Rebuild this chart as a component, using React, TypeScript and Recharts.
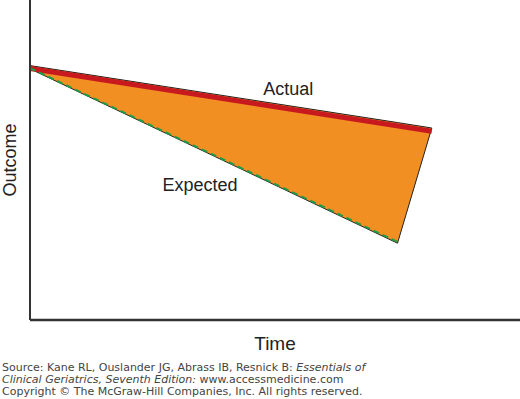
import {
  ComposedChart,
  Area,
  Line,
  XAxis,
  YAxis,
  ReferenceDot,
} from "recharts";

// Values. Time and outcome are both on a 0–100 scale.
const time = [0, 75, 82];
const actualTop = [79.5, 61.7, 60];
const bandLow = [78.5, 24, 60]; // expected trajectory, then the closing edge
const expected = [78.7, 24.4, null];
const actualTrend = [78.6, null, 59];

const labels = [
  { text: "Actual", t: 52.7, v: 72.4 },
  { text: "Expected", t: 34.7, v: 42.2 },
];

const FONT = "'Liberation Sans', Arial, Helvetica, sans-serif";
const SOURCE_FONT = "'DejaVu Sans', Verdana, sans-serif";

const chartData = time.map((t, i) => ({
  time: t,
  band: [bandLow[i], actualTop[i]],
  expected: expected[i],
  actualTrend: actualTrend[i],
}));

export default function App() {
  return (
    <div
      style={{
        position: "absolute",
        left: 0,
        top: 0,
        width: 520,
        height: 399,
        background: "#fff",
      }}
    >
      <ComposedChart
        width={520}
        height={399}
        data={chartData}
        margin={{ top: 0, right: 0, bottom: 0, left: 0 }}
      >
        <XAxis
          type="number"
          dataKey="time"
          domain={[0, 100]}
          tick={false}
          tickLine={false}
          height={79}
          axisLine={{ stroke: "#333", strokeWidth: 2.5 }}
          label={{
            content: ({ viewBox }: any) => (
              <text
                x={viewBox.x + viewBox.width / 2}
                y={viewBox.y + 30}
                textAnchor="middle"
                fontFamily={FONT}
                fontSize={19}
                fill="#222"
              >
                Time
              </text>
            ),
          }}
        />
        <YAxis
          type="number"
          domain={[0, 100]}
          tick={false}
          tickLine={false}
          width={30}
          axisLine={{ stroke: "#333", strokeWidth: 2 }}
          label={{
            content: ({ viewBox }: any) => {
              const cx = viewBox.x + 16;
              const cy = viewBox.y + viewBox.height / 2;
              return (
                <text
                  x={cx}
                  y={cy}
                  textAnchor="middle"
                  transform={`rotate(-90, ${cx}, ${cy})`}
                  fontFamily={FONT}
                  fontSize={18}
                  fill="#222"
                >
                  Outcome
                </text>
              );
            },
          }}
        />
        <Area
          type="linear"
          dataKey="band"
          fill="#f28f22"
          fillOpacity={1}
          stroke="#222"
          strokeWidth={1}
          isAnimationActive={false}
        />
        <Line
          type="linear"
          dataKey="actualTrend"
          stroke="#c8191e"
          strokeWidth={5}
          dot={false}
          connectNulls
          isAnimationActive={false}
        />
        <Line
          type="linear"
          dataKey="expected"
          stroke="#1e9b48"
          strokeWidth={2}
          strokeDasharray="6 4"
          dot={false}
          isAnimationActive={false}
        />
        {labels.map((l) => (
          <ReferenceDot
            key={l.text}
            x={l.t}
            y={l.v}
            r={0}
            fill="none"
            stroke="none"
            label={{
              value: l.text,
              position: "center",
              fontSize: 18,
              fontFamily: FONT,
              fill: "#222",
            }}
          />
        ))}
      </ComposedChart>
      <div
        style={{
          position: "absolute",
          left: 2,
          top: 362,
          fontFamily: SOURCE_FONT,
          fontSize: 11,
          lineHeight: "11.5px",
          color: "#444",
          whiteSpace: "nowrap",
        }}
      >
        <div>
          Source: Kane RL, Ouslander JG, Abrass IB, Resnick B:{" "}
          <i>Essentials of</i>
        </div>
        <div>
          <i>Clinical Geriatrics, Seventh Edition:</i> www.accessmedicine.com
        </div>
        <div style={{ marginTop: 1 }}>
          Copyright © The McGraw-Hill Companies, Inc. All rights reserved.
        </div>
      </div>
    </div>
  );
}
